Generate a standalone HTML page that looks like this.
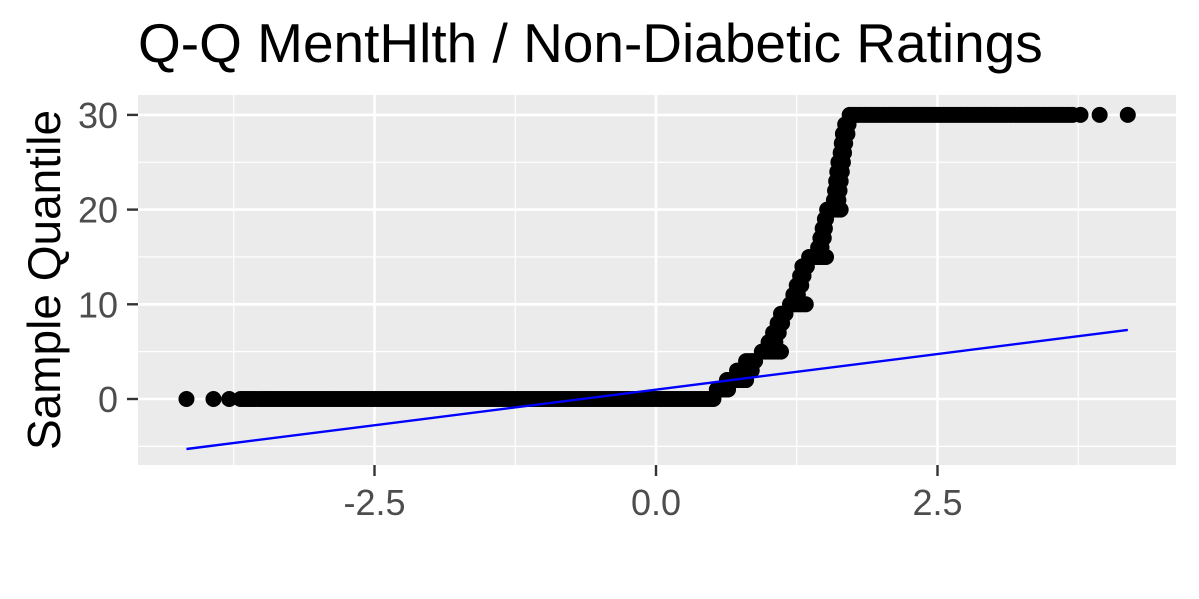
<!DOCTYPE html>
<html><head><meta charset="utf-8"><style>
body{margin:0;background:#fff;}
svg{display:block;font-family:"Liberation Sans",Arial,sans-serif;}
</style></head><body>
<svg id="chart" width="1199" height="599">
<text x="138" y="62" font-size="55" fill="#000">Q-Q MentHlth / Non-Diabetic Ratings</text>
<text transform="translate(60,280) rotate(-90)" text-anchor="middle" font-size="46" fill="#000">Sample Quantile</text>
<rect x="138" y="95" width="1038" height="370" fill="#ebebeb"/>
<g id="grid"></g><g id="marks"></g><g id="ticks"></g>
</svg>
<script>
const xMinor=[-3.75,-1.25,1.25,3.75];
const xMajor=[-2.5,0,2.5];
const xTickLabels=["-2.5","0.0","2.5"];
const yMinor=[-5,5,15,25];
const yMajor=[0,10,20,30];
const yTickLabels=["0","10","20","30"];
// step segments of the sample: value, theoretical start, theoretical end
const segValues=[0,1,2,3,4,5,6,7,8,9,10,11,12,13,14,15,16,17,18,19,20,21,22,23,24,25,26,27,28,29,30];
const segStart=[-3.69,0.54,0.63,0.72,0.80,0.94,1.00,1.04,1.08,1.11,1.19,1.22,1.25,1.28,1.30,1.36,1.44,1.46,1.48,1.50,1.52,1.58,1.59,1.60,1.61,1.62,1.64,1.65,1.66,1.68,1.72];
const segEnd=[0.51,0.64,0.80,0.85,0.88,1.11,1.06,1.09,1.12,1.15,1.33,1.26,1.29,1.31,1.34,1.51,1.47,1.49,1.50,1.51,1.64,1.62,1.63,1.64,1.65,1.66,1.67,1.68,1.70,1.71,3.70];
const isoX=[-4.17,-3.93,-3.79,3.77,3.94,4.19];
const isoY=[0,0,0,30,30,30];
const lineX=[-4.17,4.19];
const lineY=[-5.28,7.29];
const X=v=>656+v*112.6;
const Y=v=>399-v*9.47;
const NS="http://www.w3.org/2000/svg";
function mk(tag,attrs,parent){const e=document.createElementNS(NS,tag);for(const k in attrs)e.setAttribute(k,attrs[k]);parent.appendChild(e);return e;}
const grid=document.getElementById('grid'),marks=document.getElementById('marks'),ticks=document.getElementById('ticks');
xMinor.forEach(v=>{const l=mk('line',{x1:X(v),x2:X(v),y1:95,y2:465,stroke:'#fff','stroke-width':1.2},grid);

});
yMinor.forEach(v=>{const l=mk('line',{x1:138,x2:1176,y1:Y(v),y2:Y(v),stroke:'#fff','stroke-width':1.2},grid);

});
xMajor.forEach((v,i)=>{const l=mk('line',{x1:X(v),x2:X(v),y1:95,y2:465,stroke:'#fff','stroke-width':2.6},grid);


mk('line',{x1:X(v),x2:X(v),y1:465,y2:476,stroke:'#333','stroke-width':2.4},ticks);
const t=mk('text',{x:X(v),y:515,'text-anchor':'middle','font-size':36,fill:'#4d4d4d'},ticks);t.textContent=xTickLabels[i];

});
yMajor.forEach((v,i)=>{const l=mk('line',{x1:138,x2:1176,y1:Y(v),y2:Y(v),stroke:'#fff','stroke-width':2.6},grid);


mk('line',{x1:127,x2:138,y1:Y(v),y2:Y(v),stroke:'#333','stroke-width':2.4},ticks);
const t=mk('text',{x:118,y:Y(v)+13,'text-anchor':'end','font-size':36,fill:'#4d4d4d'},ticks);t.textContent=yTickLabels[i];

});
segValues.forEach((v,i)=>{const x1=X(segStart[i]),x2=X(segEnd[i]);
const n=Math.max(1,Math.round((x2-x1)/3));
for(let k=0;k<=n;k++){const c=mk('circle',{cx:x1+(x2-x1)*k/n,cy:Y(v),r:8,fill:'#000'},marks);

}});
isoX.forEach((x,i)=>{const c=mk('circle',{cx:X(x),cy:Y(isoY[i]),r:8,fill:'#000'},marks);

});
const ln=mk('line',{x1:X(lineX[0]),y1:Y(lineY[0]),x2:X(lineX[1]),y2:Y(lineY[1]),stroke:'#0000ff','stroke-width':2.4},marks);


</script>
</body></html>
